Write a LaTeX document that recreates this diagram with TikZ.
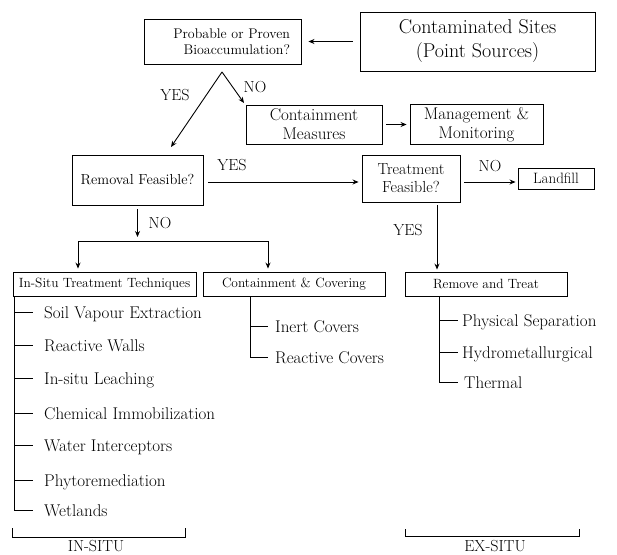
\documentclass[tikz,border=0pt]{standalone}
\usepackage{fontspec}
\usetikzlibrary{arrows.meta,calc}
\begin{document}
\begin{tikzpicture}[x=1pt,y=-1pt,
  box/.style={draw,line width=0.9pt,inner sep=0pt,align=center},
  arr/.style={-{Stealth[length=6pt,width=5pt]},line width=0.9pt},
  ln/.style={line width=0.9pt},
  lbl/.style={font=\fontsize{16}{18}\selectfont,inner sep=0pt},
  item/.style={anchor=base west,inner sep=0pt,font=\fontsize{17}{19}\selectfont},
  small/.style={font=\fontsize{13.4}{15}\selectfont}]
\fill[white] (0,0) rectangle (617,554);
\useasboundingbox (0,0) rectangle (617,554);

% boxes
\node[box,minimum width=235pt,minimum height=59pt,font=\fontsize{20}{24}\selectfont] (cs) at (477.5,41.5) {Contaminated Sites\\(Point Sources)};
\node[box,minimum height=45pt,text width=135pt,inner xsep=11pt,align=right,font=\fontsize{14}{16}\selectfont] (pb) at (222.5,41.5) {Probable or Proven\\Bioaccumulation?};
\node[box,minimum width=136pt,minimum height=39pt,font=\fontsize{17}{19}\selectfont] (cm) at (314,124.5) {Containment\\Measures};
\node[box,minimum width=133pt,minimum height=40pt,font=\fontsize{17}{19}\selectfont] (mm) at (476.5,124.5) {Management \&\\Monitoring};
\node[box,minimum width=131pt,minimum height=50pt,font=\fontsize{14.5}{16}\selectfont] (rem) at (137.5,180) {Removal Feasible?};
\node[box,minimum width=98pt,minimum height=47pt,font=\fontsize{16}{18}\selectfont] (tf) at (411,178.5) {Treatment\\Feasible?};
\node[box,minimum width=76pt,minimum height=21pt,font=\fontsize{15}{17}\selectfont] (lf) at (556,178.5) {Landfill};
\node[box,small,minimum width=183pt,minimum height=24pt] (is) at (104.5,284) {In-Situ Treatment Techniques};
\node[box,small,minimum width=182pt,minimum height=24pt] (cc) at (294,284) {Containment \& Covering};
\node[box,small,minimum width=162pt,minimum height=24pt] (rt) at (486,284) {Remove and Treat};

% top connectors
\draw[arr,shorten <=7pt,shorten >=7pt] (cs.west) -- (pb.east);
\coordinate (apex) at (222,72);
\coordinate (yesend) at (171,147);
\coordinate (noend) at (244,103);
\draw[arr] (apex) -- (yesend);
\draw[arr] (apex) -- (noend);
\node[lbl] (yes1) at (175,95) {YES};
\node[lbl] (no1) at (255,87) {NO};
\draw[arr,shorten <=4pt,shorten >=3pt] (cm.east) -- (cm.east -| mm.west);

% middle connectors
\draw[arr,shorten <=5pt,shorten >=3pt] ([yshift=-2pt]rem.east) -- ([yshift=-2pt]rem.east -| tf.west);
\node[lbl] (yes2) at (232,165) {YES};
\draw[arr,shorten <=4pt,shorten >=2pt] ([yshift=-3.5pt]tf.east) -- ([yshift=-3.5pt]tf.east -| lf.west);
\node[lbl] (no2) at (490,166) {NO};

\coordinate (br) at (137.5,241);
\draw[arr,shorten <=4pt,shorten >=4pt] (rem.south) -- (br);
\node[lbl] (no3) at (160,223) {NO};
\coordinate (bl) at (78,241);
\coordinate (brr) at (268,241);
\draw[ln,{Stealth[length=6pt,width=5pt]}-{Stealth[length=6pt,width=5pt]},shorten <=3pt,shorten >=3pt] (bl |- is.north) -- (bl) -- (brr) -- (brr |- cc.north);

\coordinate (ty) at (437,205);
\draw[arr,shorten <=3pt,shorten >=2pt] (ty |- tf.south) -- (ty |- rt.north);
\node[lbl] (yes3) at (408,230) {YES};

% in-situ tree
\coordinate (ia) at (14,296);
\draw[ln] (ia) |- (33,510);
\foreach \y/\t [count=\i] in {312/Soil Vapour Extraction,345/Reactive Walls,378/In-situ Leaching,413/Chemical Immobilization,445/Water Interceptors,480/Phytoremediation} {
  \draw[ln] (14,\y) -- (33,\y);
  \node[item] (ii\i) at (44,\y+6) {\t};
}
\node[item] (ii7) at (44,516) {Wetlands};

% containment tree
\coordinate (ca) at (250,296);
\draw[ln] (ca) |- (268,357);
\draw[ln] (250,326) -- (268,326);
\node[item] (ci1) at (275,332) {Inert Covers};
\node[item] (ci2) at (275,363) {Reactive Covers};

% remove tree
\coordinate (ra) at (439,296);
\draw[ln] (ra) |- (458,382);
\draw[ln] (439,320) -- (458,320);
\draw[ln] (439,352) -- (458,352);
\node[item] (ri1) at (462,326) {Physical Separation};
\node[item] (ri2) at (462,358) {Hydrometallurgical};
\node[item] (ri3) at (464,388) {Thermal};

% brackets
\coordinate (b1) at (12,528);
\draw[ln] (b1) -- (12,537) -- (185,537) -- (185,528);
\node[item,anchor=base,font=\fontsize{16}{18}\selectfont] (insitu) at (96,551.5) {IN-SITU};
\coordinate (b2) at (405,529);
\draw[ln] (b2) -- (405,536) -- (579,536) -- (579,529);
\node[item,anchor=base,font=\fontsize{16}{18}\selectfont] (exsitu) at (495,551.5) {EX-SITU};
\end{tikzpicture}
\end{document}
